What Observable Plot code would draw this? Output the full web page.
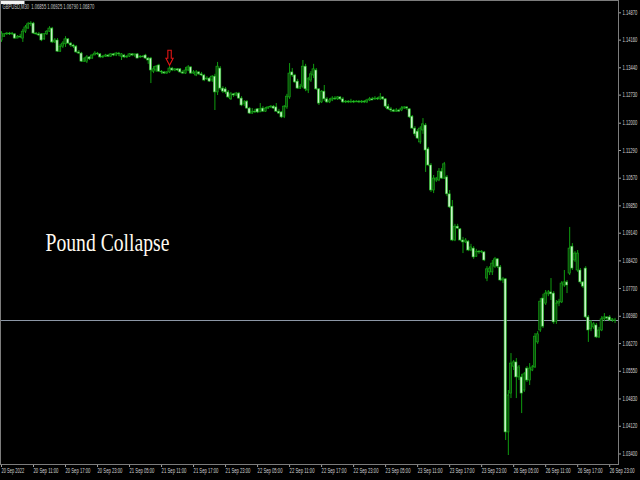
<!DOCTYPE html>
<html><head><meta charset="utf-8">
<script src="https://cdn.jsdelivr.net/npm/d3@7"></script>
<script src="https://cdn.jsdelivr.net/npm/@observablehq/plot@0.6"></script>
<style>html,body{margin:0;padding:0;background:#000;overflow:hidden}svg{display:block}</style>
</head><body>
<script>
const symbol = "GBPUSD";
const timeframe = "M30";
const annotation = "Pound Collapse";
const currentPrice = 1.06870;
const arrowMark = [{bar: 63, price: 1.1370}];

const opens = [
1.1415,1.1425,1.1431,1.1433,1.1431,1.1431,1.1420,1.1425,1.1420,1.1438,
1.1446,1.1457,1.1459,1.1433,1.1431,1.1431,1.1418,1.1431,1.1438,1.1446,
1.1410,1.1415,1.1386,1.1399,1.1405,1.1418,1.1407,1.1402,1.1399,1.1384,
1.1381,1.1360,1.1360,1.1371,1.1368,1.1376,1.1381,1.1379,1.1371,1.1373,
1.1376,1.1373,1.1379,1.1376,1.1381,1.1373,1.1376,1.1371,1.1373,1.1379,
1.1376,1.1379,1.1371,1.1373,1.1376,1.1368,1.1368,1.1334,1.1337,1.1350,
1.1334,1.1332,1.1329,1.1332,1.1342,1.1337,1.1340,1.1340,1.1332,1.1329,
1.1337,1.1345,1.1329,1.1324,1.1332,1.1327,1.1324,1.1314,1.1316,1.1311,
1.1321,1.1280,1.1342,1.1290,1.1288,1.1280,1.1262,1.1275,1.1272,1.1277,
1.1264,1.1249,1.1256,1.1238,1.1225,1.1230,1.1236,1.1228,1.1238,1.1230,
1.1238,1.1241,1.1243,1.1241,1.1230,1.1228,1.1217,1.1241,1.1267,1.1332,
1.1324,1.1308,1.1290,1.1295,1.1347,1.1285,1.1311,1.1324,1.1337,1.1288,
1.1254,1.1282,1.1262,1.1254,1.1259,1.1264,1.1262,1.1267,1.1262,1.1254,
1.1256,1.1254,1.1256,1.1254,1.1256,1.1254,1.1256,1.1254,1.1259,1.1262,
1.1262,1.1264,1.1262,1.1267,1.1262,1.1243,1.1236,1.1233,1.1230,1.1233,
1.1233,1.1238,1.1241,1.1236,1.1217,1.1186,1.1178,1.1150,1.1181,1.1194,
1.1132,1.1090,1.1025,1.1051,1.1051,1.1074,1.1056,1.1059,1.1015,1.0983,
1.0895,1.0931,1.0924,1.0895,1.0890,1.0892,1.0869,1.0874,1.0853,1.0866,
1.0864,1.0864,1.0796,1.0812,1.0812,1.0827,1.0846,1.0825,1.0791,1.0794,
1.0396,1.0497,1.0567,1.0578,1.0539,1.0539,1.0505,1.0562,1.0531,1.0557,
1.0565,1.0630,1.0661,1.0744,1.0731,1.0755,1.0760,1.0757,1.0684,1.0731,
1.0734,1.0778,1.0786,1.0809,1.0879,1.0843,1.0817,1.0817,1.0786,1.0822,
1.0695,1.0664,1.0669,1.0674,1.0643,1.0661,1.0690,1.0695,1.0695,1.0687,
1.06855];

const highs = [
1.1438,1.1433,1.1436,1.1436,1.1436,1.1433,1.1428,1.1431,1.1444,1.1454,
1.1462,1.1464,1.1462,1.1436,1.1436,1.1433,1.1433,1.1441,1.1451,1.1449,
1.1420,1.1420,1.1405,1.1412,1.1425,1.1420,1.1410,1.1405,1.1402,1.1389,
1.1384,1.1371,1.1376,1.1373,1.1379,1.1386,1.1384,1.1381,1.1376,1.1379,
1.1379,1.1381,1.1381,1.1384,1.1384,1.1381,1.1379,1.1376,1.1381,1.1381,
1.1379,1.1381,1.1376,1.1376,1.1379,1.1371,1.1371,1.1347,1.1350,1.1353,
1.1337,1.1334,1.1334,1.1347,1.1345,1.1342,1.1342,1.1342,1.1337,1.1345,
1.1350,1.1347,1.1337,1.1337,1.1334,1.1332,1.1327,1.1321,1.1319,1.1324,
1.1327,1.1358,1.1347,1.1295,1.1293,1.1285,1.1280,1.1277,1.1280,1.1280,
1.1269,1.1259,1.1259,1.1241,1.1238,1.1236,1.1238,1.1251,1.1243,1.1241,
1.1243,1.1246,1.1246,1.1251,1.1236,1.1230,1.1246,1.1275,1.1355,1.1342,
1.1327,1.1314,1.1301,1.1363,1.1353,1.1319,1.1334,1.1353,1.1342,1.1290,
1.1285,1.1298,1.1267,1.1264,1.1269,1.1269,1.1269,1.1269,1.1267,1.1259,
1.1259,1.1262,1.1259,1.1259,1.1259,1.1259,1.1259,1.1262,1.1267,1.1267,
1.1269,1.1267,1.1277,1.1269,1.1264,1.1249,1.1241,1.1236,1.1238,1.1236,
1.1243,1.1243,1.1243,1.1238,1.1220,1.1191,1.1184,1.1191,1.1212,1.1199,
1.1137,1.1095,1.1064,1.1059,1.1082,1.1082,1.1098,1.1064,1.1025,1.0999,
1.0937,1.0937,1.0926,1.0903,1.0900,1.0895,1.0885,1.0879,1.0872,1.0869,
1.0869,1.0866,1.0827,1.0827,1.0843,1.0851,1.0848,1.0830,1.0799,1.0796,
1.0505,1.0601,1.0583,1.0588,1.0570,1.0547,1.0552,1.0567,1.0575,1.0570,
1.0653,1.0658,1.0744,1.0755,1.0765,1.0765,1.0796,1.0762,1.0739,1.0742,
1.0788,1.0817,1.0791,1.0929,1.0887,1.0866,1.0869,1.0822,1.0788,1.0827,
1.0700,1.0687,1.0682,1.0679,1.0669,1.0697,1.0705,1.0697,1.0700,1.0692,
1.06925];

const lows = [
1.1410,1.1423,1.1428,1.1428,1.1428,1.1418,1.1420,1.1420,1.1410,1.1433,
1.1444,1.1451,1.1431,1.1428,1.1425,1.1412,1.1415,1.1428,1.1436,1.1407,
1.1407,1.1384,1.1384,1.1394,1.1397,1.1405,1.1397,1.1394,1.1381,1.1379,
1.1358,1.1358,1.1355,1.1363,1.1366,1.1376,1.1376,1.1368,1.1368,1.1371,
1.1371,1.1371,1.1373,1.1373,1.1373,1.1363,1.1368,1.1368,1.1371,1.1373,
1.1371,1.1368,1.1368,1.1371,1.1366,1.1353,1.1303,1.1329,1.1332,1.1332,
1.1327,1.1327,1.1327,1.1329,1.1334,1.1334,1.1334,1.1329,1.1327,1.1327,
1.1334,1.1327,1.1327,1.1321,1.1324,1.1321,1.1308,1.1311,1.1306,1.1306,
1.1233,1.1272,1.1285,1.1277,1.1275,1.1264,1.1259,1.1267,1.1269,1.1262,
1.1243,1.1243,1.1236,1.1223,1.1223,1.1225,1.1225,1.1228,1.1228,1.1228,
1.1236,1.1238,1.1236,1.1228,1.1223,1.1212,1.1212,1.1236,1.1262,1.1319,
1.1303,1.1288,1.1288,1.1290,1.1282,1.1277,1.1306,1.1316,1.1285,1.1246,
1.1251,1.1256,1.1251,1.1251,1.1256,1.1259,1.1259,1.1259,1.1251,1.1251,
1.1251,1.1251,1.1251,1.1254,1.1251,1.1251,1.1251,1.1251,1.1256,1.1259,
1.1259,1.1259,1.1259,1.1259,1.1238,1.1233,1.1228,1.1228,1.1228,1.1228,
1.1230,1.1236,1.1233,1.1212,1.1184,1.1165,1.1158,1.1145,1.1171,1.1072,
1.1087,1.1020,1.1017,1.1046,1.1048,1.1054,1.1054,1.1009,1.0978,1.0892,
1.0892,1.0924,1.0892,1.0861,1.0887,1.0866,1.0866,1.0846,1.0851,1.0859,
1.0861,1.0840,1.0788,1.0804,1.0804,1.0822,1.0822,1.0788,1.0783,1.0375,
1.0336,1.0484,1.0557,1.0484,1.0531,1.0445,1.0500,1.0526,1.0518,1.0554,
1.0562,1.0625,1.0656,1.0666,1.0726,1.0749,1.0739,1.0677,1.0677,1.0723,
1.0731,1.0773,1.0757,1.0804,1.0817,1.0838,1.0812,1.0781,1.0770,1.0692,
1.0630,1.0658,1.0664,1.0640,1.0640,1.0658,1.0684,1.0687,1.0684,1.0682,
1.06790];

const closes = [
1.1433,1.1431,1.1433,1.1431,1.1433,1.1420,1.1425,1.1423,1.1438,1.1449,
1.1457,1.1459,1.1433,1.1431,1.1428,1.1415,1.1431,1.1438,1.1446,1.1410,
1.1415,1.1386,1.1399,1.1407,1.1418,1.1407,1.1402,1.1399,1.1384,1.1381,
1.1360,1.1366,1.1371,1.1366,1.1376,1.1381,1.1379,1.1371,1.1373,1.1376,
1.1373,1.1379,1.1376,1.1381,1.1379,1.1379,1.1371,1.1373,1.1379,1.1376,
1.1379,1.1368,1.1373,1.1371,1.1368,1.1363,1.1337,1.1340,1.1347,1.1334,
1.1332,1.1329,1.1332,1.1342,1.1337,1.1340,1.1337,1.1332,1.1329,1.1337,
1.1345,1.1329,1.1332,1.1332,1.1327,1.1324,1.1311,1.1316,1.1308,1.1321,
1.1280,1.1347,1.1290,1.1282,1.1280,1.1267,1.1275,1.1272,1.1277,1.1264,
1.1246,1.1254,1.1238,1.1225,1.1230,1.1228,1.1228,1.1236,1.1230,1.1238,
1.1241,1.1243,1.1238,1.1230,1.1225,1.1215,1.1243,1.1269,1.1329,1.1324,
1.1306,1.1290,1.1295,1.1347,1.1288,1.1314,1.1327,1.1340,1.1288,1.1251,
1.1282,1.1262,1.1254,1.1259,1.1264,1.1262,1.1267,1.1262,1.1254,1.1256,
1.1254,1.1256,1.1254,1.1256,1.1254,1.1256,1.1254,1.1259,1.1262,1.1259,
1.1264,1.1262,1.1267,1.1262,1.1243,1.1236,1.1233,1.1230,1.1233,1.1230,
1.1238,1.1241,1.1238,1.1215,1.1186,1.1171,1.1160,1.1186,1.1197,1.1129,
1.1090,1.1025,1.1056,1.1056,1.1074,1.1056,1.1093,1.1015,1.0981,1.0895,
1.0931,1.0926,1.0895,1.0890,1.0895,1.0869,1.0877,1.0851,1.0866,1.0864,
1.0866,1.0843,1.0820,1.0822,1.0835,1.0846,1.0827,1.0791,1.0794,1.0396,
1.0492,1.0575,1.0578,1.0539,1.0565,1.0497,1.0547,1.0531,1.0562,1.0565,
1.0645,1.0651,1.0736,1.0671,1.0757,1.0760,1.0755,1.0682,1.0731,1.0736,
1.0783,1.0786,1.0778,1.0874,1.0822,1.0861,1.0861,1.0786,1.0775,1.0695,
1.0661,1.0682,1.0677,1.0643,1.0661,1.0690,1.0695,1.0692,1.0687,1.0690,
1.06870];

const priceTicks = [1.14870,1.14160,1.13440,1.12730,1.12000,1.11290,1.10570,1.09850,1.09140,
  1.08420,1.07700,1.06980,1.06270,1.05550,1.04830,1.04120,1.03400];
const timeTickBars = [0,12,24,36,48,60,72,84,96,108,120,132,144,156,168,180,192,204,216,228];
const timeTickLabels = ["20 Sep 2022","20 Sep 11:00","20 Sep 17:00","20 Sep 23:00","21 Sep 05:00",
  "21 Sep 11:00","21 Sep 17:00","21 Sep 23:00","22 Sep 05:00","22 Sep 11:00","22 Sep 17:00",
  "22 Sep 23:00","23 Sep 05:00","23 Sep 11:00","23 Sep 17:00","23 Sep 23:00","26 Sep 05:00",
  "26 Sep 11:00","26 Sep 17:00","26 Sep 23:00"];

const bars = closes.map((c, i) => ({i, open: opens[i], high: highs[i], low: lows[i], close: c}));
const last = bars[bars.length - 1];
const header = `${symbol},${timeframe}  ${last.open.toFixed(5)} ${last.high.toFixed(5)} ${last.low.toFixed(5)} ${last.close.toFixed(5)}`;
const boxLabel = currentPrice.toFixed(5);

const arrowSymbol = {
  draw(ctx, size) {
    const k = Math.sqrt(size / Math.PI) / 8;
    const pts = [[-1.7,-7.5],[1.7,-7.5],[1.7,0.5],[3.6,0.5],[0,7.5],[-3.6,0.5],[-1.7,0.5]];
    ctx.moveTo(pts[0][0]*k, pts[0][1]*k);
    for (let j = 1; j < pts.length; j++) ctx.lineTo(pts[j][0]*k, pts[j][1]*k);
    ctx.closePath();
  }
};

const chart = Plot.plot({
  width: 640, height: 480,
  marginTop: 0, marginRight: 22, marginBottom: 16, marginLeft: 0,
  style: {background: "#000", color: "#d4d4d4", fontFamily: "'Liberation Sans', Arial, sans-serif", fontSize: "6.5px", overflow: "visible"},
  x: {type: "linear", domain: [-0.375, 231.3]},
  y: {domain: [1.03126, 1.1519]},
  marks: [
    Plot.ruleY([currentPrice], {stroke: "#8c97a6", strokeWidth: 1}),
    Plot.ruleX(bars, {x: "i", y1: "low", y2: "high", stroke: "#0f9c0f", strokeWidth: 1}),
    Plot.rect(bars, {x1: d => d.i - 0.42, x2: d => d.i + 0.42, y1: "open", y2: "close",
      fill: d => d.close < d.open ? "#c8f2c8" : "#0a4c0a", stroke: "#18b018", strokeWidth: 0.6}),
    Plot.dot(arrowMark, {x: "bar", y: "price", symbol: arrowSymbol, r: 8, stroke: "#e01515", fill: "#000", strokeWidth: 1.1}),
    Plot.text([annotation], {frameAnchor: "top-left", dx: 45, dy: 233, text: d => d, fill: "#fffaf0",
      fontFamily: "'Liberation Serif', 'Times New Roman', serif", fontSize: 25, textAnchor: "start", lineAnchor: "top"}),
    Plot.text([header], {frameAnchor: "top-left", dx: 2, dy: 6, text: d => d, fill: "#c8c8c8",
      textAnchor: "start", lineAnchor: "middle", fontSize: 6.5}),
    Plot.axisY(priceTicks, {anchor: "right", tickSize: 2, tickPadding: 2, tickFormat: d => d.toFixed(5), stroke: "#a0a0a0", fill: "#d4d4d4"}),
    Plot.axisX(timeTickBars, {anchor: "bottom", tickSize: 3, tickPadding: 1, tickFormat: (d, k) => timeTickLabels[k],
      textAnchor: "start", stroke: "#a0a0a0", fill: "#d4d4d4"}),
    Plot.text([currentPrice], {y: d => d, frameAnchor: "right", dx: 3, textAnchor: "start", text: () => boxLabel,
      fill: "#000", fontSize: 6.5}),
    Plot.frame({stroke: "#7c7c7c"})
  ]
});
document.body.appendChild(chart);

// condense the small MT4-style labels horizontally (they are narrow in the screenshot)
const priceRe = /^\d\.\d{5}$/;
const timeRe = /^\d\d Sep /;
d3.select(chart).selectAll("text").each(function () {
  const t = this.textContent;
  let width = null;
  if (t === annotation) width = 124;
  else if (t === header) width = 92;
  else if (priceRe.test(t)) width = 15;
  else if (timeRe.test(t)) width = t.length * 2.1;
  const b = this.getBBox();
  if (width != null && b.width > 0) {
    const sx = width / b.width, ax = b.x;
    const prev = this.getAttribute("transform") || "";
    this.setAttribute("transform", `${prev} translate(${ax} 0) scale(${sx.toFixed(4)} 1) translate(${-ax} 0)`.trim());
  }
  if (t === boxLabel) {
    d3.select(this.parentNode).insert("rect", () => this)
      .attr("x", b.x - 3).attr("y", b.y - 0.5).attr("width", 24).attr("height", b.height + 1)
      .attr("fill", "#f4f4f4");
  }
});
</script>
</body></html>
